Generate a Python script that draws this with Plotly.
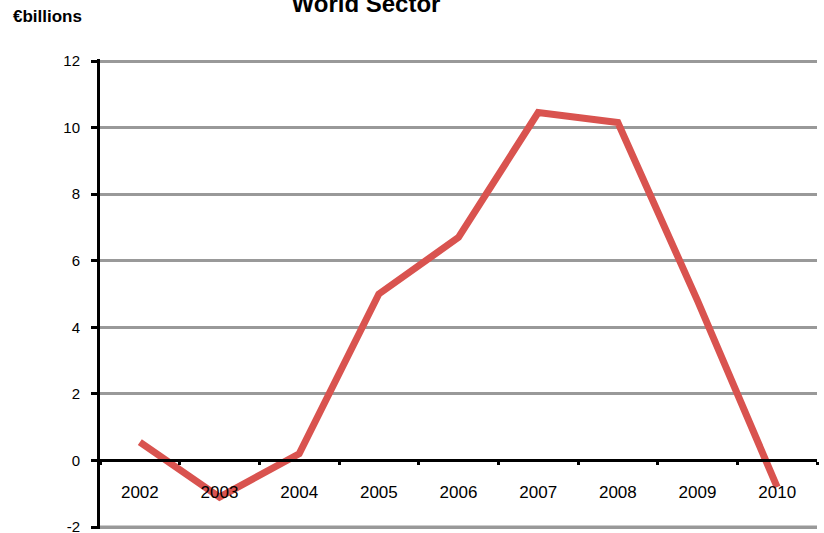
import plotly.graph_objects as go

years = ["2002", "2003", "2004", "2005", "2006", "2007", "2008", "2009", "2010"]
values = [0.55, -1.1, 0.2, 5.0, 6.7, 10.45, 10.15, 4.8, -0.8]
y_ticks = [-2, 0, 2, 4, 6, 8, 10, 12]
y_tick_text = ["-2", "0", "2", "4", "6", "8", "10", "12"]

W, H = 824, 533
left, right = 100, 7
top, bottom = 59, 4
plot_w = W - left - right
plot_h = H - top - bottom
y_range = [-2.06, 12.06]
px_per_unit = plot_h / (y_range[1] - y_range[0])
zero_pos = (0 - y_range[0]) * px_per_unit / plot_h

fig = go.Figure()
fig.add_trace(go.Scatter(
    x=years, y=values, mode="lines",
    line=dict(color="#d9534f", width=7),
    showlegend=False, hoverinfo="skip",
))

# bottom gridline at the lowest tick value
fig.add_shape(type="line", xref="paper", x0=0, x1=1, yref="y",
              y0=y_ticks[0], y1=y_ticks[0],
              line=dict(color="#999999", width=3), layer="below")

fig.update_layout(
    width=W, height=H,
    margin=dict(l=left, r=right, t=top, b=bottom, autoexpand=False),
    paper_bgcolor="white", plot_bgcolor="white",
    font=dict(family="Liberation Sans, Arial", size=15, color="black"),
    title=dict(text="<b>World Sector</b>", x=366 / W, xanchor="center",
               y=1 - 4 / H, yanchor="middle", font=dict(size=24)),
    annotations=[dict(text="<b>€billions</b>",
                      x=(11 - left) / plot_w, y=1 + (top - 17) / plot_h,
                      xref="paper", yref="paper",
                      showarrow=False, xanchor="left", yanchor="middle",
                      font=dict(size=17))],
)

fig.update_xaxes(
    type="category", range=[-0.5, 8.5],
    anchor="free", position=zero_pos, automargin=False,
    showline=True, linecolor="black", linewidth=3,
    ticks="outside", tickson="boundaries", ticklen=3, tickwidth=3, tickcolor="black",
    ticklabelstandoff=15, showgrid=False, zeroline=False,
    tickfont=dict(size=17),
)
fig.update_yaxes(
    range=y_range, tickvals=y_ticks, ticktext=y_tick_text, automargin=False,
    showline=True, linecolor="black", linewidth=3,
    ticks="outside", ticklen=6, tickwidth=3, tickcolor="black",
    showgrid=True, gridcolor="#999999", gridwidth=3,
    zeroline=False, ticklabelstandoff=8, ticklabeloverflow="allow",
    tickfont=dict(size=15),
)

fig.write_html("out.html")
